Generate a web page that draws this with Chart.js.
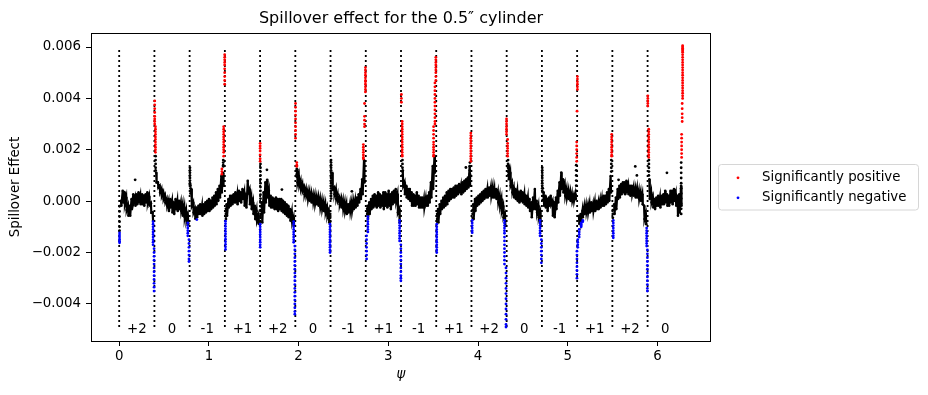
<!DOCTYPE html>
<html>
<head>
<meta charset="utf-8">
<script src="https://cdn.jsdelivr.net/npm/chart.js@4.4.1/dist/chart.umd.min.js"></script>
<style>
html,body{margin:0;padding:0;background:#fff;}
#wrap{width:928px;height:395px;position:relative;}
</style>
</head>
<body>
<div id="wrap"><canvas id="c" width="928" height="395"></canvas></div>
<script>
// ---------------- DATA ----------------
const UNIT = 1e-4; // all spillover values below are in units of 1e-4

// dotted boundaries psi = k*pi/8, and the end of the sampled range (2*pi)
const boundaries = [0, 0.3927, 0.7854, 1.1781, 1.5708, 1.9635, 2.3562, 2.7489,
                    3.1416, 3.5343, 3.9270, 4.3197, 4.7124, 5.1051, 5.4978, 5.8905];
const psiEnd = 6.2832;
const vlineBottom = -0.0049;
const vlineTop = 0.006;

// labels written between the dotted boundaries, at y = -0.005
const segLabels = ['+2', '0', '-1', '+1', '+2', '0', '-1', '+1',
                   '-1', '+1', '+2', '0', '-1', '+1', '+2', '0'];
const segLabelY = -0.005;

// tick labels
const xTicks = [0, 1, 2, 3, 4, 5, 6];
const yTicks = [-0.004, -0.002, 0, 0.002, 0.004, 0.006];

// black band: [top, bottom] of the point cloud read at these fractions of each segment
const bandFrac = [0.05, 0.10, 0.15, 0.20, 0.25, 0.30, 0.35, 0.40, 0.45, 0.50,
                  0.55, 0.60, 0.65, 0.70, 0.75, 0.80, 0.85, 0.90, 0.95];
const band00 = [[0.1,-1.8],[4.0,-0.5],[3.5,-1.0],[1.4,-3.5],[-1.8,-5.7],[-1.8,-5.7],[0.8,-3.1],[2.7,-0.5],[1.4,-1.8],[2.7,-1.2],
                [3.4,-0.5],[2.1,-1.2],[2.7,-1.2],[2.1,-1.8],[2.7,-0.5],[3.4,-0.5],[1.8,-1.5],[-0.8,-4.5],[-4.4,-7.6]];
const band01 = [[11.1,7.3],[7.3,5.3],[6.0,3.4],[4.7,2.1],[3.4,0.8],[2.1,-0.5],[0.8,-1.8],[0.1,-3.8],[0.8,-2.5],[0.1,-4.4],
                [-0.5,-5.0],[0.8,-3.1],[0.1,-3.8],[0.1,-3.1],[-0.5,-3.8],[-1.2,-5.7],[-2.5,-6.3],[-3.8,-7.6],[-5.7,-8.9]];
const band02 = [[4.7,-1.8],[-0.5,-4.4],[-3.1,-6.9],[-2.5,-6.3],[-1.8,-5.0],[-1.2,-5.0],[-1.8,-5.7],[-1.2,-5.0],[-0.5,-4.4],[0.1,-3.8],
                [0.8,-3.8],[0.1,-3.1],[1.4,-2.5],[2.1,-1.8],[3.4,-1.2],[4.7,0.1],[6.0,1.4],[9.8,3.4],[11.0,6.0]];
const band03 = [[-1.2,-5.7],[0.8,-2.5],[2.1,-1.8],[2.1,-1.2],[2.7,-0.5],[3.4,-0.5],[2.7,-1.2],[4.0,0.1],[3.4,-0.5],[4.7,0.8],
                [3.4,-1.8],[2.7,-2.5],[7.9,3.4],[4.7,-1.2],[1.4,-3.1],[-0.5,-5.0],[-1.8,-7.0],[-3.8,-7.6],[-5.7,-8.9]];
const band04 = [[-0.5,-8.3],[3.4,-4.4],[7.3,-0.5],[7.9,1.4],[4.0,-1.8],[2.1,-2.5],[1.4,-2.5],[0.8,-3.1],[1.4,-3.1],[0.8,-3.8],
                [0.8,-3.1],[0.8,-3.8],[0.1,-4.4],[-0.5,-5.0],[-1.2,-5.7],[-1.8,-6.3],[-3.1,-7.6],[-4.4,-8.3],[-6.3,-9.6]];
const band05 = [[12.4,7.3],[9.8,6.0],[7.9,4.7],[6.6,4.0],[5.3,2.7],[4.7,2.1],[4.0,0.8],[3.4,0.1],[2.7,-0.5],[2.1,-0.5],
                [2.1,-1.2],[1.4,-1.2],[1.4,-1.8],[0.8,-2.5],[0.1,-3.1],[-0.5,-3.8],[-1.2,-4.4],[-2.5,-5.7],[-3.8,-8.3]];
const band06 = [[11.0,4.7],[5.3,2.7],[4.7,0.8],[2.7,0.1],[1.4,-1.2],[0.8,-2.5],[0.1,-3.1],[-0.5,-3.8],[-1.2,-5.0],[-1.2,-4.4],
                [-1.2,-3.8],[-0.5,-3.8],[-0.5,-3.1],[0.1,-2.5],[1.4,-1.8],[2.7,-0.5],[4.7,0.8],[8.5,2.7],[16.0,7.3]];
const band07 = [[-1.8,-7.0],[-0.5,-5.0],[0.8,-3.1],[2.1,-2.5],[2.7,-1.8],[2.1,-2.5],[3.4,-1.8],[2.7,-2.5],[2.1,-1.8],[3.4,-3.1],
                [3.4,-1.8],[2.7,-2.5],[4.0,-1.8],[2.7,-3.1],[3.4,-1.2],[4.0,-0.5],[4.7,0.1],[2.7,-4.4],[-3.1,-8.3]];
const band08 = [[12.0,6.0],[7.3,2.7],[6.0,1.4],[4.7,0.8],[4.7,0.1],[3.4,-1.8],[2.7,-1.8],[2.1,-1.8],[3.4,-1.2],[2.1,-2.5],
                [1.4,-2.5],[1.4,-2.5],[0.8,-2.5],[0.8,-1.8],[2.1,-1.8],[3.4,-0.5],[7.3,1.4],[13.7,4.7],[17.6,11.1]];
const band09 = [[-3.1,-8.3],[-1.2,-5.0],[0.1,-3.1],[1.4,-2.5],[2.1,-1.8],[3.4,-1.2],[4.0,0.1],[4.7,0.8],[4.7,1.4],[5.3,1.4],
                [6.0,2.1],[6.0,2.7],[6.6,3.4],[6.0,2.7],[7.3,3.4],[7.9,4.0],[8.5,4.7],[9.2,5.3],[13.7,6.0]];
const band10 = [[-1.2,-7.0],[0.8,-3.8],[1.4,-1.8],[2.1,-1.2],[2.7,-0.5],[3.4,0.1],[4.0,0.8],[4.7,1.4],[4.7,1.4],[5.3,2.1],
                [5.3,2.1],[5.3,1.4],[4.7,1.4],[4.7,0.8],[3.4,-0.5],[2.1,-1.8],[0.8,-3.8],[-1.8,-6.3],[-5.0,-9.6]];
const band11 = [[14.0,8.5],[11.1,6.0],[7.3,3.4],[5.3,1.4],[4.7,0.8],[4.0,0.1],[3.4,-0.5],[4.0,0.1],[3.4,-0.5],[2.7,-1.2],
                [2.1,-1.8],[1.4,-2.5],[0.8,-3.8],[-0.5,-6.3],[1.4,-3.1],[4.7,-3.1],[0.1,-4.4],[-1.8,-6.3],[-4.4,-9.6]];
const band12 = [[3.4,-1.8],[2.1,-2.5],[0.8,-3.8],[1.4,-1.8],[2.1,-1.2],[0.1,-5.7],[-0.5,-6.3],[1.4,-3.1],[4.0,-0.5],[7.3,2.1],
                [11.1,4.7],[8.5,3.4],[6.0,2.1],[4.7,1.4],[4.0,0.8],[3.4,0.1],[2.7,0.1],[2.1,0.1],[2.7,0.8]];
const band13 = [[-5.7,-8.9],[-5.0,-7.6],[-3.8,-6.3],[-2.5,-5.0],[-1.8,-4.4],[-1.8,-4.4],[-1.2,-4.4],[-0.5,-3.8],[-1.2,-3.8],[-0.5,-3.8],
                [0.1,-3.1],[-0.5,-3.1],[0.1,-2.5],[0.8,-1.8],[2.1,-1.8],[2.1,-1.2],[3.4,-0.5],[4.7,0.1],[9.8,3.4]];
const band14 = [[-1.2,-5.0],[1.4,-3.1],[4.7,0.8],[6.0,1.4],[6.6,2.7],[7.3,3.4],[7.3,2.7],[7.9,3.4],[6.0,2.7],[6.0,2.1],
                [6.0,2.7],[5.3,2.1],[4.7,1.4],[4.7,1.4],[4.0,0.8],[3.4,0.1],[2.7,-1.2],[-1.8,-7.0],[-5.0,-9.0]];
const band15 = [[8.5,0.8],[3.4,-0.5],[1.4,-2.5],[0.8,-3.1],[1.4,-1.8],[2.1,-1.8],[1.4,-2.5],[2.1,-1.2],[2.7,-1.2],[4.0,-0.5],
                [2.7,-1.8],[2.1,-1.8],[4.0,-0.5],[4.0,-1.2],[4.7,0.1],[2.7,-1.8],[2.1,-5.7],[2.7,-4.4],[6.0,-1.8]];
const bands = [band00, band01, band02, band03, band04, band05, band06, band07,
               band08, band09, band10, band11, band12, band13, band14, band15];

// steep runs next to the boundaries: [psi, [values]]
const positiveStreaks = [
  [0.396, [39, 37.5, 36, 34.5, 33, 32, 31, 30]],
  [0.404, [29, 28, 27, 26, 25, 24, 23, 22, 21, 20, 19]],
  [1.176, [57, 56, 55, 54, 53, 51.5, 50, 48.5, 47, 45.5]],
  [1.165, [29, 28, 27, 26, 25, 24, 23, 22, 21, 20, 19, 17.5]],
  [1.145, [12.5, 11.5, 10.5]],
  [1.571, [22.5, 21.5, 20.5, 19.5, 18, 16.5, 15.5]],
  [1.966, [38, 36.5, 35, 33.5, 32, 30.5, 29, 27.5, 26, 24.5]],
  [1.980, [15, 14, 13.5]],
  [2.745, [52, 51, 50, 49, 48, 47, 46.5, 45.5, 44.5, 43.5, 42.5]],
  [2.735, [38, 33, 31.5, 30, 29]],
  [2.722, [22, 21, 20, 19, 18, 17, 16.5]],
  [3.146, [41.5, 40, 38.5]],
  [3.155, [31, 30, 29, 28, 27, 26, 25, 24, 23, 22, 21, 20, 19, 18, 17.5]],
  [3.530, [56, 55, 54, 53, 52, 51, 50, 48.5, 47]],
  [3.520, [46, 44.5, 43, 41.5, 40, 38.5, 37, 35.5, 34, 32.5, 31, 30]],
  [3.505, [29, 27.5, 26, 24.5, 23, 22, 21, 20, 19, 18, 17.5]],
  [3.920, [26.5, 25.5, 24.5, 23.5, 22.5, 21.5, 20.5, 19.5, 18.5, 17.5, 16.5, 15.5]],
  [4.318, [32, 31, 30, 29, 28, 27, 26]],
  [4.330, [24, 22.5, 21.5, 20.5, 19.5, 18.5, 17.5]],
  [5.108, [48.5, 47.5, 46.5, 45.5, 44.5, 43.5]],
  [5.104, [35]],
  [5.100, [23, 21.5, 20, 18.5, 17, 15.5]],
  [5.490, [26, 25, 24, 23, 22, 21, 20, 19, 18, 17.5]],
  [5.893, [41, 40, 39, 38, 37]],
  [5.903, [28, 27, 26, 25, 24, 23, 22, 21, 20, 19, 18, 17]],
  [6.281, [60.5, 60, 59.5, 59, 58.5, 58, 57, 56, 55, 54, 53, 52, 51, 50, 49, 48, 47, 46, 45, 44, 43, 42, 41, 40]],
  [6.276, [38, 36, 34, 32.5, 31]],
  [6.270, [26, 24.5, 23, 21.5, 20, 18.5, 17]]
];
const negativeStreaks = [
  [0.004, [-12.4, -13.2, -14, -14.8, -15.6, -16.2]],
  [0.378, [-8, -9, -10, -11, -12, -13, -14, -15, -16, -17]],
  [0.389, [-18.5, -20, -21.5, -23, -24.5, -26, -27.5, -29, -30.5, -32, -33.5, -35]],
  [0.765, [-8.5, -9.5, -10.5, -11.5, -12.5, -13.5]],
  [0.778, [-15, -16.5, -18, -19.5, -21, -22.5, -23.5]],
  [0.866, [-7.2]],
  [1.185, [-7.8, -8.8, -9.8, -10.8, -11.8, -12.8, -13.8, -14.8, -15.8, -16.8, -17.8, -18.8]],
  [1.572, [-9, -10, -11, -12, -13, -14, -15, -16, -17, -18]],
  [1.945, [-8, -9, -10, -11, -12, -13, -14, -15, -16]],
  [1.958, [-17.5, -19, -20.5, -22, -23.5, -25, -26.5, -28, -29.5, -31, -32.5, -34, -35.5, -37, -38.5, -40, -41.5, -43, -44]],
  [2.350, [-9, -10, -11, -12, -13, -14, -15, -16, -17, -18, -19, -20]],
  [2.772, [-6, -7, -8, -9, -10, -11, -12]],
  [2.758, [-13.5, -15, -16.5, -18, -19.5, -21, -22.5]],
  [3.126, [-7.5, -8.5, -9.5, -10.5, -11.5, -12.5, -13.5, -14.5, -15.5]],
  [3.140, [-17, -18.5, -20, -21.5, -23, -24.5, -26, -27.5, -29, -30, -31]],
  [3.540, [-9, -10, -11, -12, -13, -14, -15, -16, -17, -18, -19, -20]],
  [3.935, [-7.5, -8.5, -9.5, -10.5, -11.5, -12.3]],
  [4.295, [-7.5, -8.5, -9.5, -10.5, -11.5, -12.5, -14, -15.5, -17, -18.5, -20, -21.5, -23, -24.5]],
  [4.312, [-26, -28, -30, -32, -34, -36, -38, -40, -42, -44, -46, -48, -49]],
  [4.692, [-7.5, -8.5, -9.5, -10.5, -11.5, -12.5, -13.5]],
  [4.706, [-15, -16.5, -18, -19.5, -21, -22.5, -24]],
  [5.168, [-7.5, -8]],
  [5.150, [-8.5, -9, -9.5, -10]],
  [5.128, [-11, -12, -13, -14]],
  [5.112, [-15, -16, -17, -18]],
  [5.103, [-19.5, -21, -22.5, -24, -25.5, -27, -28.5, -30]],
  [5.508, [-7.5, -8.5, -9.5, -10.5, -11.5, -12.5, -13.5, -14.3]],
  [5.880, [-10.5, -11.5, -12.5, -13.5, -14.5, -15.5, -16.5, -17.5]],
  [5.888, [-19, -20.5, -22, -23.5, -25, -26.5, -28, -29.5, -31, -32.5, -34, -35]]
];
const blackStreaks = [
  [0.004, [-2, -4, -6, -8, -10, -11.5]],
  [0.406, [17.5, 16, 14.5, 13, 12]],
  [0.789, [13, 12, 11, 10, 9, 8, 7, 6.5]],
  [0.795, [6, 5, 4, 3]],
  [1.160, [16, 15, 14, 13.5]],
  [1.190, [-7, -6, -5, -4, -3]],
  [1.575, [14.5, 13, 11.5, 10, 8.5, 7, 5.5, 4, 2.5, 1, -0.5, -2, -3.5, -5, -6.5, -8]],
  [1.980, [12.5, 11.5, 10.5, 9.5]],
  [2.352, [-5, -6.5, -8]],
  [2.362, [16, 15, 14, 13, 12, 11, 10, 9, 8, 7, 6, 5, 4, 3, 2, 1]],
  [2.765, [-5, -4, -3]],
  [3.158, [16, 14.5, 13, 11.5, 10]],
  [3.545, [-8, -7, -6, -5]],
  [3.910, [15, 13.5, 12, 10.5, 9]],
  [3.940, [-6.5, -5, -3.5]],
  [4.335, [16, 14.5, 13, 11.5, 10]],
  [4.716, [13, 12, 11, 10, 9, 8, 7, 6, 5, 4]],
  [4.722, [5, 3.5, 2, 0.5]],
  [5.095, [4, 6, 8, 10, 12, 14]],
  [5.486, [16, 14.5, 13, 11.5]],
  [5.503, [-6.5, -5, -3.5]],
  [5.905, [16, 14.5, 13, 11.5, 10]],
  [6.265, [15, 13, 11, 9, 7, 5, 3, 1, -1, -3, -5]]
];
const blackOutliers = [
  [0.178, 8.3], [1.647, 12.2], [1.650, 8.3], [1.814, 4.5], [2.594, 3.8],
  [3.865, 13.1], [5.567, 8.3], [5.753, 13.5], [5.771, 10.0], [6.106, 11.0]
];

// ---------------- BUILD ----------------
const FONT = 'DejaVu Sans';
Chart.defaults.font.family = FONT;
Chart.defaults.color = '#000';

function streakPoints(list) {
  const pts = [];
  list.forEach(([psi, vals]) => vals.forEach(v => pts.push({x: psi, y: v * UNIT})));
  return pts;
}
function segEnd(k) { return k + 1 < boundaries.length ? boundaries[k + 1] : psiEnd; }
function bandPoints(k) {
  const lo = boundaries[k], w = segEnd(k) - lo, pts = [];
  bands[k].forEach(([top, bot], i) => {
    const p = lo + bandFrac[i] * w;
    pts.push({x: p, y: top * UNIT});
    pts.push({x: p + 0.0125 * w, y: bot * UNIT});
  });
  return pts;
}

const datasets = [];
datasets.push({label: 'Significantly positive', data: streakPoints(positiveStreaks),
  pointRadius: 1.4, pointBackgroundColor: '#ff0000', pointBorderWidth: 0, order: 0});
datasets.push({label: 'Significantly negative', data: streakPoints(negativeStreaks),
  pointRadius: 1.4, pointBackgroundColor: '#0000ff', pointBorderWidth: 0, order: 0});
datasets.push({label: 'steep', data: streakPoints(blackStreaks).concat(blackOutliers.map(([p, v]) => ({x: p, y: v * UNIT}))),
  pointRadius: 1.4, pointBackgroundColor: '#000', pointBorderWidth: 0, order: 1});
bands.forEach((b, k) => datasets.push({label: 'band' + k, data: bandPoints(k), showLine: true,
  borderColor: '#000', borderWidth: 2.2, pointRadius: 1.3, pointBackgroundColor: '#000', pointBorderWidth: 0, order: 1}));
boundaries.forEach((L, k) => datasets.push({label: 'line' + k,
  data: [{x: L, y: vlineBottom}, {x: L, y: vlineTop}], showLine: true,
  borderColor: '#000', borderWidth: 1.8, borderDash: [2, 3], pointRadius: 0, order: 2}));

const decor = {
  id: 'decor',
  afterDraw(chart) {
    const {ctx, chartArea: a, scales: {x, y}} = chart;
    ctx.save();
    // frame
    ctx.strokeStyle = '#000';
    ctx.lineWidth = 1;
    ctx.strokeRect(Math.round(a.left) + 0.5, Math.round(a.top) + 0.5, Math.round(a.width) - 1, Math.round(a.height));
    // segment labels
    ctx.fillStyle = '#000';
    ctx.font = '13.33px "' + FONT + '"';
    ctx.textAlign = 'center';
    ctx.textBaseline = 'middle';
    segLabels.forEach((t, k) => {
      const mid = (boundaries[k] + segEnd(k)) / 2;
      ctx.fillText(t, x.getPixelForValue(mid), y.getPixelForValue(segLabelY));
    });
    // legend
    const lx = 718.5, ly = 164.5, lw = 200, lh = 45.5, r = 3;
    ctx.beginPath();
    ctx.moveTo(lx + r, ly);
    ctx.arcTo(lx + lw, ly, lx + lw, ly + lh, r);
    ctx.arcTo(lx + lw, ly + lh, lx, ly + lh, r);
    ctx.arcTo(lx, ly + lh, lx, ly, r);
    ctx.arcTo(lx, ly, lx + lw, ly, r);
    ctx.closePath();
    ctx.fillStyle = 'rgba(255,255,255,0.8)';
    ctx.fill();
    ctx.strokeStyle = '#d6d6d6';
    ctx.stroke();
    const entries = [[datasets[0].label, '#ff0000', 177.3], [datasets[1].label, '#0000ff', 197.3]];
    entries.forEach(([txt, col, yy]) => {
      ctx.fillStyle = col;
      ctx.beginPath();
      ctx.arc(738, yy + 0.5, 1.4, 0, Math.PI * 2);
      ctx.fill();
      ctx.fillStyle = '#000';
      ctx.textAlign = 'left';
      ctx.fillText(txt, 762, yy);
    });
    ctx.restore();
  }
};

new Chart(document.getElementById('c'), {
  type: 'scatter',
  data: {datasets},
  options: {
    responsive: false,
    animation: false,
    devicePixelRatio: 1,
    events: [],
    layout: {padding: {left: 0, right: 217, top: 0, bottom: 0}},
    plugins: {
      legend: {display: false},
      tooltip: {enabled: false},
      title: {display: true, text: 'Spillover effect for the 0.5\u2033 cylinder', fullSize: false,
        font: {size: 16, weight: 'normal', family: FONT}, color: '#000', padding: {top: 9, bottom: 4.8}}
    },
    scales: {
      x: {
        type: 'linear', min: -0.31416, max: 6.5973,
        afterBuildTicks: s => { s.ticks = xTicks.map(v => ({value: v})); },
        afterFit: s => { s.height = 54; },
        ticks: {font: {size: 13.33}, color: '#000', padding: 3, maxRotation: 0, autoSkip: false,
          callback: v => String(v)},
        grid: {display: true, drawOnChartArea: false, drawTicks: true, tickLength: 5, color: '#000', lineWidth: 1},
        border: {display: false},
        title: {display: true, text: '\u03c8', font: {size: 13.33, style: 'italic'}, color: '#000', padding: {top: 0, bottom: 12.5}}
      },
      y: {
        type: 'linear', min: -0.005445, max: 0.006545,
        afterBuildTicks: s => { s.ticks = yTicks.map(v => ({value: v})); },
        afterFit: s => { s.width = 91; },
        ticks: {font: {size: 13.33}, color: '#000', padding: 5, autoSkip: false,
          callback: v => (v < 0 ? '\u2212' : '') + Math.abs(v).toFixed(3)},
        grid: {display: true, drawOnChartArea: false, drawTicks: true, tickLength: 5, color: '#000', lineWidth: 1},
        border: {display: false},
        title: {display: true, text: 'Spillover Effect', font: {size: 13.33}, color: '#000', padding: {top: 8, bottom: 0}}
      }
    }
  },
  plugins: [decor]
});
</script>
</body>
</html>
